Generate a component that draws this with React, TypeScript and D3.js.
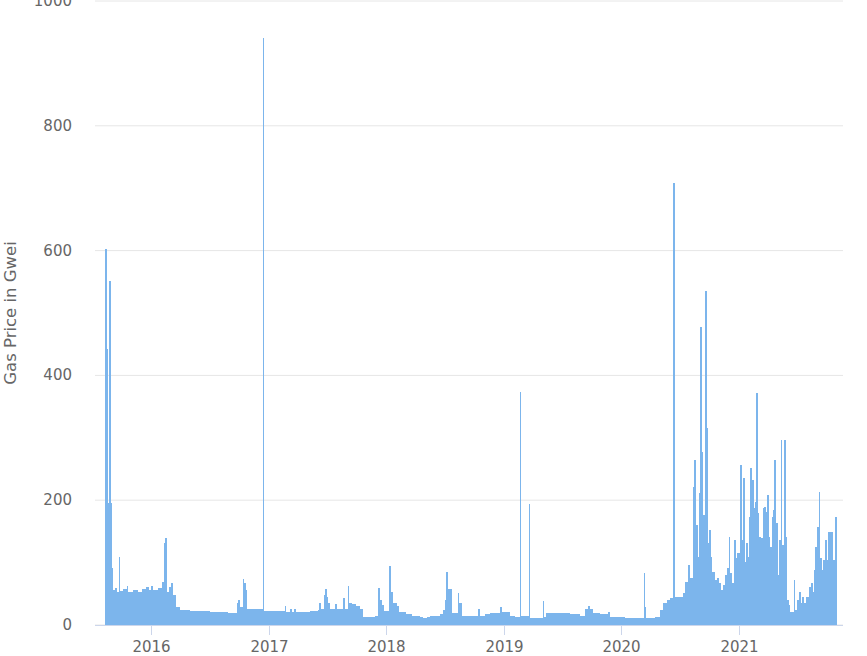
import React from "react";
import * as d3 from "d3";

const dates: string[] = [
  "2015-08-11","2015-08-16","2015-08-20","2015-08-25","2015-08-28","2015-08-31","2015-09-03","2015-09-11","2015-09-17","2015-09-23",
  "2015-09-26","2015-10-06","2015-10-17","2015-10-21","2015-11-06","2015-11-21","2015-12-04","2015-12-18","2015-12-26","2016-01-01",
  "2016-01-07","2016-01-23","2016-02-03","2016-02-10","2016-02-15","2016-02-18","2016-02-26","2016-03-04","2016-03-09","2016-03-18",
  "2016-03-31","2016-05-01","2016-06-01","2016-07-02","2016-08-27","2016-09-23","2016-09-28","2016-10-04","2016-10-12","2016-10-16",
  "2016-10-21","2016-10-25","2016-12-13","2016-12-14","2017-02-20","2017-02-23","2017-03-08","2017-03-14","2017-03-20","2017-03-26",
  "2017-05-09","2017-06-03","2017-06-06","2017-06-12","2017-06-22","2017-06-25","2017-06-30","2017-07-04","2017-07-10","2017-07-26",
  "2017-07-29","2017-08-20","2017-08-23","2017-09-04","2017-09-07","2017-09-17","2017-09-29","2017-10-12","2017-10-21","2017-11-27",
  "2017-12-06","2017-12-13","2017-12-19","2017-12-25","2018-01-10","2018-01-16","2018-01-22","2018-02-01","2018-02-10","2018-03-01",
  "2018-03-22","2018-04-16","2018-04-25","2018-05-08","2018-05-17","2018-06-17","2018-06-26","2018-07-03","2018-07-07","2018-07-10",
  "2018-07-23","2018-08-12","2018-08-15","2018-08-25","2018-10-14","2018-10-16","2018-11-04","2018-11-20","2018-12-21","2018-12-27",
  "2019-01-21","2019-02-05","2019-02-21","2019-02-22","2019-03-20","2019-03-21","2019-05-03","2019-05-04","2019-05-13","2019-06-25",
  "2019-07-26","2019-08-26","2019-09-11","2019-09-20","2019-09-26","2019-10-06","2019-10-27","2019-11-21","2019-11-27","2020-01-13",
  "2020-03-12","2020-03-13","2020-03-16","2020-04-15","2020-05-01","2020-05-10","2020-05-23","2020-06-01","2020-06-11","2020-06-12",
  "2020-07-12","2020-07-18","2020-07-27","2020-08-02","2020-08-11","2020-08-15","2020-08-20","2020-08-27","2020-08-31","2020-09-03",
  "2020-09-07","2020-09-12","2020-09-18","2020-09-23","2020-09-26","2020-10-01","2020-10-06","2020-10-10","2020-10-17","2020-10-24",
  "2020-10-31","2020-11-06","2020-11-14","2020-11-20","2020-11-25","2020-12-01","2020-12-05","2020-12-11","2020-12-18","2020-12-22",
  "2020-12-27","2021-01-05","2021-01-10","2021-01-14","2021-01-18","2021-01-24","2021-01-29","2021-02-02","2021-02-05","2021-02-10",
  "2021-02-15","2021-02-21","2021-02-25","2021-02-28","2021-03-05","2021-03-11","2021-03-16","2021-03-20","2021-03-25","2021-03-29",
  "2021-04-03","2021-04-08","2021-04-13","2021-04-17","2021-04-20","2021-04-25","2021-05-01","2021-05-06","2021-05-11","2021-05-15",
  "2021-05-21","2021-05-26","2021-05-31","2021-06-04","2021-06-09","2021-06-21","2021-06-25","2021-07-01","2021-07-07","2021-07-12",
  "2021-07-16","2021-07-21","2021-07-30","2021-08-07","2021-08-12","2021-08-18","2021-08-23","2021-08-27","2021-09-01","2021-09-06",
  "2021-09-10","2021-09-17","2021-09-21","2021-09-26","2021-10-01","2021-10-05","2021-10-12","2021-10-16","2021-10-21","2021-10-24",
  "2021-10-28",
];

const gasPrice: number[] = [
  603,443,195,552,195,91,56,60,53,109,
  55,58,62,53,56,53,58,61,56,62,
  56,60,69,131,139,53,61,67,48,29,
  24,23,22,21,20,35,40,29,73,67,
  56,26,940,22,31,21,26,21,26,21,
  22,24,36,26,48,58,45,35,26,34,
  26,44,26,62,36,33,30,26,13,14,
  59,40,32,22,94,53,35,30,21,18,
  15,13,11,13,15,18,24,40,85,57,
  19,52,35,15,26,15,18,19,29,21,
  15,13,373,15,194,11,39,13,19,20,
  17,15,25,31,25,19,18,21,13,11,
  83,29,11,13,24,35,40,43,709,45,
  51,69,96,75,221,264,160,109,211,477,
  277,176,536,315,131,152,109,85,72,75,
  67,56,64,80,91,141,83,67,136,107,
  115,256,136,235,101,131,109,173,251,232,
  187,197,371,179,141,139,187,189,181,208,
  141,125,173,184,264,163,80,136,296,128,
  296,141,40,32,21,72,24,40,53,35,
  45,35,45,61,67,53,88,125,157,213,
  107,88,104,136,104,149,120,149,104,101,
  173,
];

const seriesEnd = "2021-11-01";
const domainStart = "2015-07-11";
const domainEnd = "2021-11-21";
const yTicks: number[] = [0, 200, 400, 600, 800, 1000];
const xTickYears: number[] = [2016, 2017, 2018, 2019, 2020, 2021];
const yTitle = "Gas Price in Gwei";

const W = 867;
const H = 656;
const left = 95;
const right = 843;
const top = 1;
const bottom = 625;
const FONT = "'DejaVu Sans', Verdana, sans-serif";

export default function App() {
  const parse = d3.timeParse("%Y-%m-%d");
  const x = d3
    .scaleTime()
    .domain([parse(domainStart)!, parse(domainEnd)!])
    .range([left, right]);
  const y = d3.scaleLinear().domain([0, 1000]).range([bottom, top]);

  const starts = dates.map((d) => parse(d)!);
  const ends = starts.slice(1).concat([parse(seriesEnd)!]);

  return (
    <svg
      width={W}
      height={H}
      style={{ position: "absolute", left: 0, top: 0, background: "#fff" }}
      fontFamily={FONT}
    >
      {yTicks.map((t) => (
        <line
          key={"g" + t}
          x1={left}
          x2={right}
          y1={y(t)}
          y2={y(t)}
          stroke="#e6e6e6"
          strokeWidth={1}
        />
      ))}
      <g shapeRendering="crispEdges">
        {starts.map((s, i) => {
          const x0 = x(s);
          const x1 = x(ends[i]);
          const w = Math.max(1.5, x1 - x0 + 0.4);
          return (
            <rect
              key={i}
              x={x0}
              y={y(gasPrice[i])}
              width={w}
              height={y(0) - y(gasPrice[i])}
              fill="#7cb5ec"
            />
          );
        })}
      </g>
      <line x1={left} x2={right} y1={bottom + 0.5} y2={bottom + 0.5} stroke="#ccd6eb" />
      {xTickYears.map((yr) => {
        const xp = Math.round(x(new Date(yr, 0, 1))) + 0.5;
        return (
          <g key={yr}>
            <line x1={xp} x2={xp} y1={bottom} y2={bottom + 10} stroke="#ccd6eb" />
            <text x={xp} y={652} textAnchor="middle" fontSize={15} fill="#666666">
              {yr}
            </text>
          </g>
        );
      })}
      {yTicks.map((t) => (
        <text
          key={"l" + t}
          x={72}
          y={y(t) + 5}
          textAnchor="end"
          fontSize={15}
          fill="#666666"
        >
          {t}
        </text>
      ))}
      <text
        transform={`translate(15.5, ${(top + bottom) / 2}) rotate(-90)`}
        textAnchor="middle"
        fontSize={16.5}
        fill="#666666"
      >
        {yTitle}
      </text>
    </svg>
  );
}
